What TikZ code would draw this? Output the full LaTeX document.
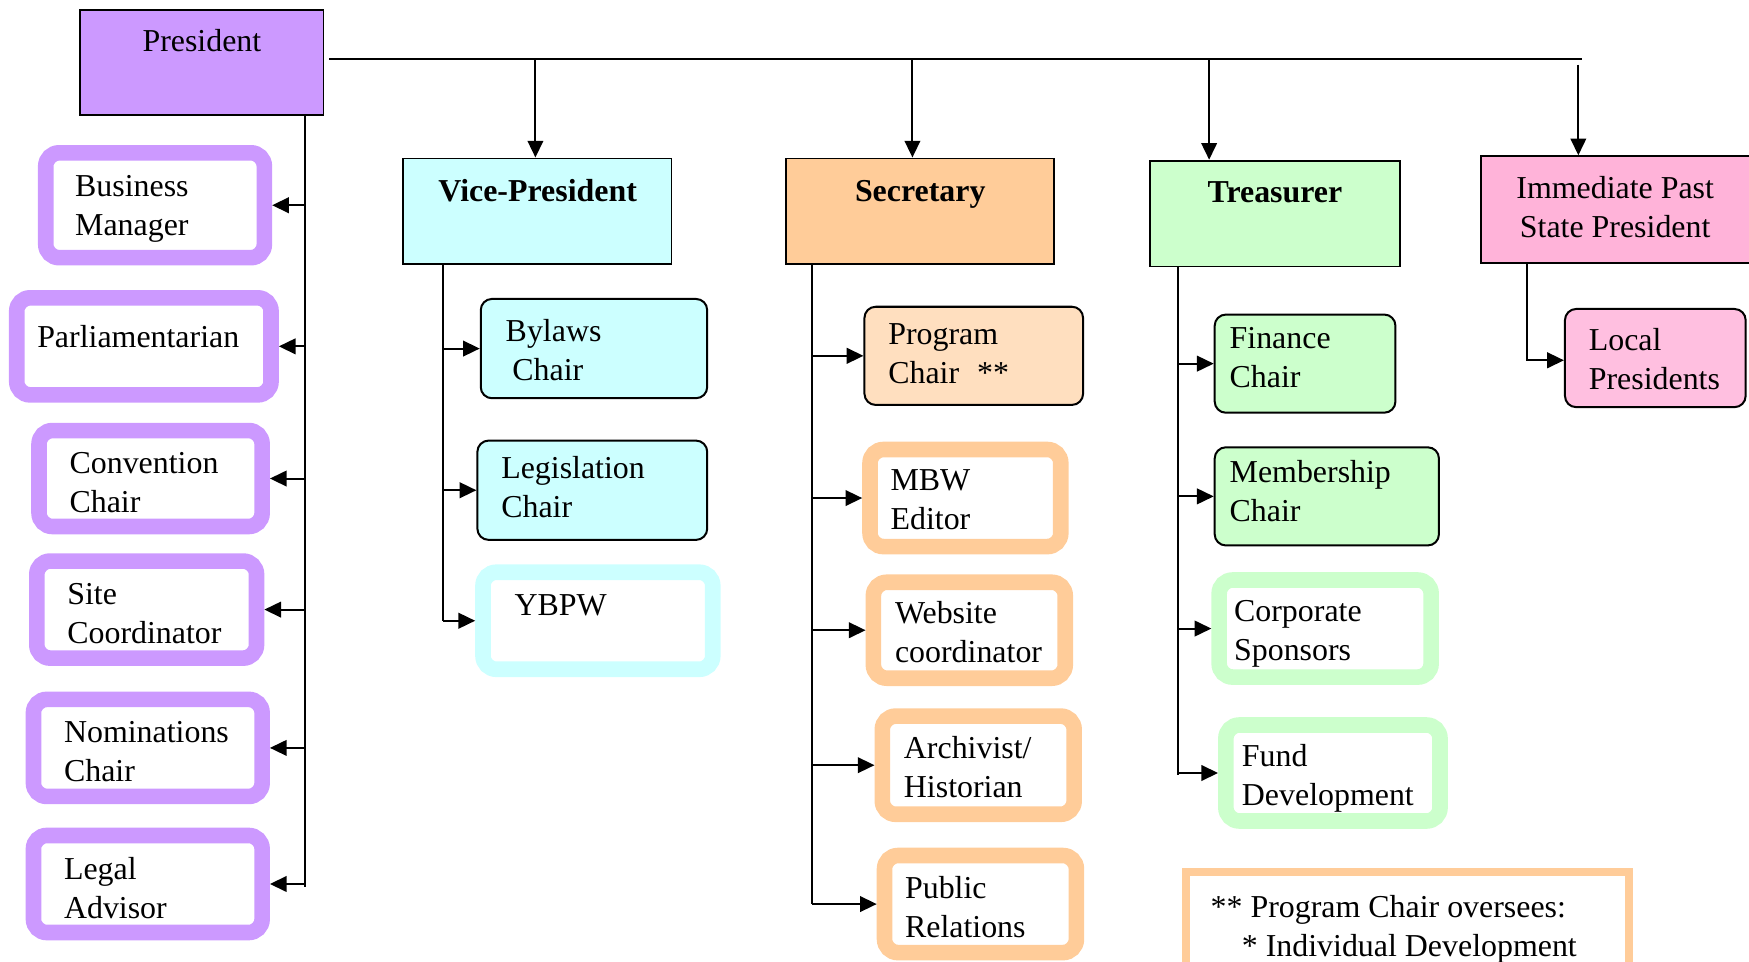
\documentclass[tikz,border=0pt]{standalone}
\usepackage{fontspec}
\setmainfont{Liberation Serif}
\usetikzlibrary{arrows.meta}
\definecolor{purp}{HTML}{CC99FF}
\definecolor{aqua}{HTML}{CCFFFF}
\definecolor{orng}{HTML}{FFCC99}
\definecolor{peach}{HTML}{FFDFBF}
\definecolor{mint}{HTML}{CCFFCC}
\definecolor{rose}{HTML}{FFB3D9}
\definecolor{rosel}{HTML}{FFBFE0}
\tikzset{
	wire/.style={line width=0.9pt},
	arr/.style={wire, -{Triangle[length=7.5pt,width=7pt]}},
	sz/.style 2 args={minimum width=#1*0.5pt, minimum height=#2*0.5pt, inner sep=0pt},
	office/.style={draw, line width=0.8pt, fill=#1},
	chair/.style={draw, line width=0.9pt, rounded corners=5pt, fill=#1},
	ring/.style={draw=#1, line width=7pt, rounded corners=6pt, fill=white},
	txt/.style={inner sep=0pt, anchor=west, align=left, font=\fontsize{14.3}{17.5}\selectfont},
	head/.style={inner sep=0pt, align=center, font=\fontsize{14.3}{17.5}\selectfont\bfseries}
}

\begin{document}
\begin{tikzpicture}[x=0.5pt, y=-0.5pt]
			%%%%% START %%%%%
			\useasboundingbox (0,0) rectangle (1568,862);
			
			%%%%% PRESIDENT %%%%%
			\node[office=purp, sz={218}{94}] (pres) at (181,56) {};
			\node[head, font=\fontsize{14.3}{17.5}\selectfont] (prest) at (181,36) {President};
			
			\node[ring=purp, sz={196}{94}] (bm) at (139,184) {};
			\node[txt] (bmt) at (67,187) {Business\\Manager};
			\node[ring=purp, sz={228}{87}] (parl) at (129,310.5) {};
			\node[txt] (parlt) at (33,302) {Parliamentarian};
			\node[ring=purp, sz={200}{86}] (conv) at (135,429) {};
			\node[txt] (convt) at (62,433) {Convention\\Chair};
			\node[ring=purp, sz={197}{87}] (site) at (131.5,546.5) {};
			\node[txt] (sitet) at (60,550) {Site\\Coordinator};
			\node[ring=purp, sz={205}{87}] (nom) at (132.5,670.5) {};
			\node[txt] (nomt) at (57,674) {Nominations\\Chair};
			\node[ring=purp, sz={205}{87}] (legal) at (132.5,792.5) {};
			\node[txt] (legalt) at (57,796) {Legal\\Advisor};
			
			\coordinate (pbot) at (273,795);
			\draw[wire] (pres.south -| pbot) -- (pbot);
			\foreach \n in {bm,parl,conv,site,nom,legal}
				\draw[arr] (pbot |- \n.east) -- (\n.east);
			
			%%%%% TOP LINE %%%%%
			\coordinate (busl) at (295,53);
			\coordinate (busr) at (1418,53);
			\draw[wire] (busl) -- (busr);
			
			%%%%% VICE-PRESIDENT %%%%%
			\node[office=aqua, sz={241}{95}] (vp) at (481.5,189.5) {};
			\node[head] (vpt) at (482,171) {Vice-President};
			\coordinate (dvp) at (480,53);
			\draw[arr] (dvp) -- (dvp |- vp.north);
			
			\node[chair=aqua, sz={203}{89}] (byl) at (532.5,312.5) {};
			\node[txt] (bylt) at (453,314) {Bylaws\\\hspace*{3pt}Chair};
			\node[chair=aqua, sz={206}{89}] (leg) at (531,439.5) {};
			\node[txt] (legt) at (449,437) {Legislation\\Chair};
			\node[ring=aqua, sz={206}{87}] (ybpw) at (536,556.5) {};
			\node[txt] (ybpwt) at (461,543) {YBPW};
			
			\coordinate (vbot) at (397,556.5);
			\draw[wire] (vp.south -| vbot) -- (vbot);
			\foreach \n in {byl,leg,ybpw}
				\draw[arr] (vbot |- \n.west) -- (\n.west);
			
			%%%%% SECRETARY %%%%%
			\node[office=orng, sz={240}{95}] (sec) at (825,189.5) {};
			\node[head] (sect) at (825,174) {Secretary};
			\coordinate (dsec) at (818,53);
			\draw[arr] (dsec) -- (dsec |- sec.north);
			
			\node[chair=peach, sz={196}{88}] (prog) at (873,319) {};
			\node[txt] (progt) at (796,317) {Program\\Chair\hspace{8pt}**};
			\node[ring=orng, sz={171}{87}] (mbw) at (865.5,446.5) {};
			\node[txt] (mbwt) at (798,448) {MBW\\Editor};
			\node[ring=orng, sz={172}{86}] (web) at (869,565) {};
			\node[txt] (webt) at (802,567) {Website\\coordinator};
			\node[ring=orng, sz={172}{88}] (arch) at (877,686) {};
			\node[txt] (archt) at (810,688) {Archivist/\\Historian};
			\node[ring=orng, sz={172}{87}] (pubr) at (879,810.5) {};
			\node[txt] (pubrt) at (811,813) {Public\\Relations};
			
			\coordinate (sbot) at (728,810.5);
			\draw[wire] (sec.south -| sbot) -- (sbot);
			\foreach \n in {prog,mbw,web,arch,pubr}
				\draw[arr] (sbot |- \n.west) -- (\n.west);
			
			%%%%% TREASURER %%%%%
			\node[office=mint, sz={224}{95}] (tre) at (1143,191.5) {};
			\node[head] (tret) at (1143,172) {Treasurer};
			\coordinate (dtre) at (1084,53);
			\draw[arr] (dtre) -- (dtre |- tre.north);
			
			\node[chair=mint, sz={162}{88}] (fin) at (1170,326) {};
			\node[txt] (fint) at (1102,321) {Finance\\Chair};
			\node[chair=mint, sz={201}{88}] (mem) at (1189.5,445) {};
			\node[txt] (memt) at (1102,440) {Membership\\Chair};
			\node[ring=mint, sz={190}{87}] (corp) at (1188,563.5) {};
			\node[txt] (corpt) at (1106,568) {Corporate\\Sponsors};
			\node[ring=mint, sz={192}{86}] (fund) at (1195,693) {};
			\node[txt] (fundt) at (1113,698) {Fund\\Development};
			
			\coordinate (tbot) at (1056,695);
			\draw[wire] (tre.south -| tbot) -- (tbot);
			\foreach \n in {fin,mem,corp,fund}
				\draw[arr] (tbot |- \n.west) -- (\n.west);
			
			%%%%% PAST PRESIDENT %%%%%
			\node[office=rose, sz={272}{96}] (imm) at (1464,188) {};
			\node[txt, anchor=center, align=center] (immt) at (1448,186) {Immediate Past\\State President};
			\coordinate (dimm) at (1415,58);
			\draw[arr] (dimm) -- (dimm |- imm.north);
			
			\node[chair=rosel, sz={162}{88}] (loc) at (1484,321) {};
			\node[txt] (loct) at (1424,322) {Local\\Presidents};
			\coordinate (icor) at (1369,323);
			\draw[arr] (imm.south -| icor) -- (icor) -- (icor -| loc.west);
			
			%%%%% NOTE %%%%%
			\node[draw=orng, line width=3.5pt, fill=white, sz={397}{121}] (note) at (1262,842) {};
			\node[txt] (notet) at (1085,833) {** Program Chair oversees:\\\hspace*{14pt}* Individual Development};
			
			%%%%% END %%%%%
\end{tikzpicture}
\end{document}
